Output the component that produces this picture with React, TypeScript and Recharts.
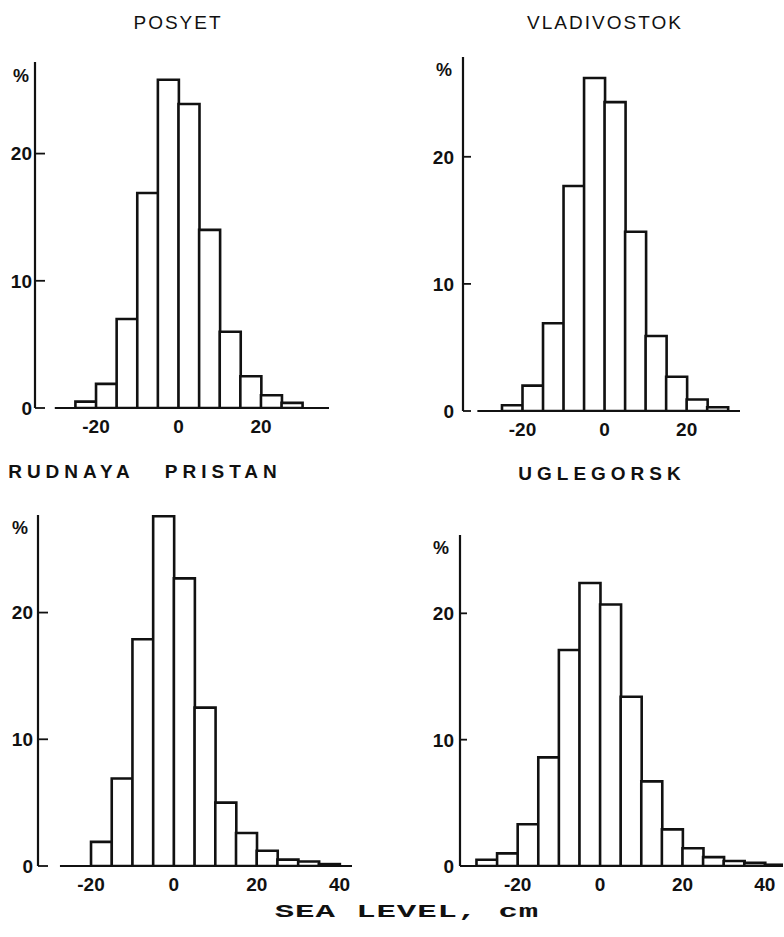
import { BarChart, Bar, XAxis, YAxis, ReferenceLine } from 'recharts'

// histogram bins are 5 cm wide, listed by their lower edge
const BIN_WIDTH = 5

const posyetBinStarts = [-25, -20, -15, -10, -5, 0, 5, 10, 15, 20, 25]
const posyetPercent = [0.5, 1.9, 7.0, 16.9, 25.8, 23.9, 14.0, 6.0, 2.5, 1.0, 0.4]

const vladivostokBinStarts = [-25, -20, -15, -10, -5, 0, 5, 10, 15, 20, 25]
const vladivostokPercent = [0.45, 2.0, 6.9, 17.7, 26.2, 24.3, 14.1, 5.9, 2.7, 0.9, 0.3]

const rudnayaBinStarts = [-20, -15, -10, -5, 0, 5, 10, 15, 20, 25, 30, 35]
const rudnayaPercent = [1.9, 6.9, 17.9, 27.6, 22.7, 12.5, 5.0, 2.6, 1.2, 0.5, 0.35, 0.15]

const uglegorskBinStarts = [-30, -25, -20, -15, -10, -5, 0, 5, 10, 15, 20, 25, 30, 35, 40]
const uglegorskPercent = [0.5, 1.0, 3.3, 8.6, 17.1, 22.4, 20.7, 13.4, 6.7, 2.9, 1.4, 0.7, 0.4, 0.25, 0.1]

const yTicks = [0, 10, 20]
const upperXTicks = [-20, 0, 20]
const lowerXTicks = [-20, 0, 20, 40]

const INK = '#111'
const tickFont = '"Liberation Sans", Arial, sans-serif'

const buildRows = (starts: number[], values: number[]) =>
  starts.map((s, i) => ({ mid: s + BIN_WIDTH / 2, pct: values[i] }))

const YTick = (props: any) => {
  const { x, y, payload, gap, len } = props
  const axisX = x + 4
  return (
    <g>
      <text
        x={axisX - gap}
        y={y}
        dy="0.36em"
        textAnchor="end"
        fill={INK}
        fontSize={19}
        fontWeight="bold"
        fontFamily={tickFont}
      >
        {payload.value}
      </text>
      <line x1={axisX} x2={axisX + len} y1={y} y2={y} stroke={INK} strokeWidth={1.8} />
    </g>
  )
}

interface PanelProps {
  rows: { mid: number; pct: number }[]
  left: number
  top: number
  width: number
  height: number
  marginTop: number
  marginRight: number
  yWidth: number
  xDomain: [number, number]
  yMax: number
  xTicks: number[]
  baseFrom: number
  labelGap: number
  tickLen: number
}

function Panel(p: PanelProps) {
  return (
    <div style={{ position: 'absolute', left: p.left, top: p.top }}>
      <BarChart
        width={p.width}
        height={p.height}
        data={p.rows}
        margin={{ top: p.marginTop, right: p.marginRight, left: 0, bottom: 0 }}
        barCategoryGap={0}
        barGap={0}
      >
        <XAxis
          dataKey="mid"
          type="number"
          domain={p.xDomain}
          ticks={p.xTicks}
          interval={0}
          allowDataOverflow
          axisLine={false}
          tickLine={false}
          tickSize={0}
          tickMargin={12}
          height={30}
          tick={{ fill: INK, fontSize: 19, fontWeight: 'bold', fontFamily: tickFont }}
        />
        <YAxis
          type="number"
          domain={[0, p.yMax]}
          ticks={yTicks}
          interval={0}
          allowDataOverflow
          width={p.yWidth}
          axisLine={{ stroke: INK, strokeWidth: 2.2 }}
          tickLine={false}
          tickSize={0}
          tickMargin={4}
          tick={(t: any) => <YTick {...t} gap={p.labelGap} len={p.tickLen} />}
        />
        <Bar dataKey="pct" fill="#fff" stroke={INK} strokeWidth={2.6} isAnimationActive={false} />
        <ReferenceLine
          segment={[
            { x: p.baseFrom, y: 0 },
            { x: p.xDomain[1], y: 0 },
          ]}
          stroke={INK}
          strokeWidth={2.2}
        />
      </BarChart>
    </div>
  )
}

const textBase: React.CSSProperties = {
  position: 'absolute',
  transform: 'translate(-50%, -50%)',
  whiteSpace: 'pre',
  lineHeight: 1,
  color: INK,
  fontFamily: tickFont,
}

function Label({ x, y, children, style }: { x: number; y: number; children: any; style?: React.CSSProperties }) {
  return <div style={{ ...textBase, left: x, top: y, ...style }}>{children}</div>
}

export default function App() {
  const upperTitle: React.CSSProperties = { fontSize: 19, letterSpacing: 2 }
  const lowerTitle: React.CSSProperties = { fontSize: 19, letterSpacing: 5, fontWeight: 'bold' }
  const pct: React.CSSProperties = { fontSize: 18, fontWeight: 'bold' }

  return (
    <div style={{ position: 'absolute', left: 0, top: 0, width: 784, height: 937, background: '#fff' }}>
      <Label x={178} y={22} style={upperTitle}>POSYET</Label>
      <Label x={605} y={22} style={upperTitle}>VLADIVOSTOK</Label>
      <Label x={145} y={471} style={lowerTitle}>RUDNAYA   PRISTAN</Label>
      <Label x={602} y={473} style={lowerTitle}>UGLEGORSK</Label>

      <Label x={21} y={76} style={pct}>%</Label>
      <Label x={444} y={70} style={pct}>%</Label>
      <Label x={20} y={528} style={pct}>%</Label>
      <Label x={441} y={548} style={pct}>%</Label>

      <Panel
        rows={buildRows(posyetBinStarts, posyetPercent)}
        left={0}
        top={40}
        width={340}
        height={398}
        marginTop={22}
        marginRight={11}
        yWidth={35}
        xDomain={[-34.8, 36.5]}
        yMax={27.2}
        xTicks={upperXTicks}
        baseFrom={-30}
        labelGap={3}
        tickLen={10}
      />
      <Panel
        rows={buildRows(vladivostokBinStarts, vladivostokPercent)}
        left={392}
        top={40}
        width={358}
        height={401}
        marginTop={17}
        marginRight={10}
        yWidth={71}
        xDomain={[-34.5, 33]}
        yMax={27.85}
        xTicks={upperXTicks}
        baseFrom={-31}
        labelGap={9}
        tickLen={8}
      />
      <Panel
        rows={buildRows(rudnayaBinStarts, rudnayaPercent)}
        left={0}
        top={500}
        width={362}
        height={396}
        marginTop={15}
        marginRight={10}
        yWidth={38}
        xDomain={[-32.8, 43]}
        yMax={27.7}
        xTicks={lowerXTicks}
        baseFrom={-27.5}
        labelGap={5}
        tickLen={10}
      />
      <Panel
        rows={buildRows(uglegorskBinStarts, uglegorskPercent)}
        left={392}
        top={500}
        width={392}
        height={396}
        marginTop={35}
        marginRight={1}
        yWidth={68}
        xDomain={[-34, 44.4]}
        yMax={26.2}
        xTicks={lowerXTicks}
        baseFrom={-34}
        labelGap={6}
        tickLen={7}
      />

      <Label
        x={407}
        y={912}
        style={{
          fontFamily: '"Liberation Mono", "DejaVu Sans Mono", monospace',
          fontWeight: 'bold',
          fontSize: 18,
          letterSpacing: 0.5,
          transform: 'translate(-50%, -50%) scaleX(1.8)',
        }}
      >
        SEA LEVEL, cm
      </Label>
    </div>
  )
}
